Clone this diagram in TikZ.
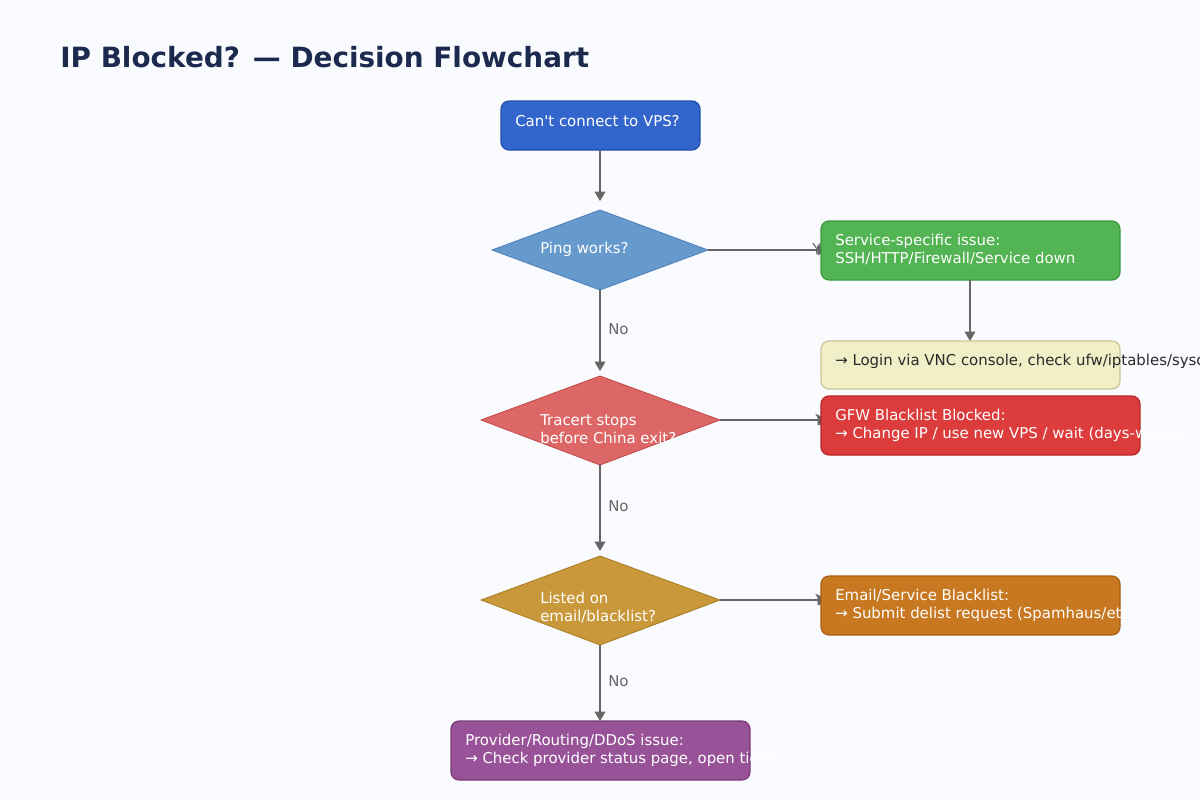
\documentclass[tikz,border=0pt]{standalone}
\usepackage{fontspec}
\setmainfont{DejaVu Sans}
\usetikzlibrary{arrows.meta}
\definecolor{bg}{HTML}{F9FBFE}
\definecolor{ttl}{HTML}{1B2A4E}
\definecolor{ln}{HTML}{666666}
\definecolor{cbf}{HTML}{3366CC}\definecolor{cbd}{HTML}{2250A8}
\definecolor{c1f}{HTML}{6699CC}\definecolor{c1d}{HTML}{4C7FB8}
\definecolor{cgf}{HTML}{52B452}\definecolor{cgd}{HTML}{3E9A3E}
\definecolor{cyf}{HTML}{F0EFC8}\definecolor{cyd}{HTML}{C9C592}\definecolor{cyt}{HTML}{2A2A2A}
\definecolor{c2f}{HTML}{DD6666}\definecolor{c2d}{HTML}{C04848}
\definecolor{crf}{HTML}{DD3C3C}\definecolor{crd}{HTML}{B82828}
\definecolor{c3f}{HTML}{C9983A}\definecolor{c3d}{HTML}{A87C24}
\definecolor{cof}{HTML}{C87820}\definecolor{cod}{HTML}{A86014}
\definecolor{cpf}{HTML}{985298}\definecolor{cpd}{HTML}{7C3A7C}
\begin{document}
\begin{tikzpicture}[x=0.75pt,y=-0.75pt,
  box/.style={draw,rounded corners=6pt,line width=0.9pt},
  txt/.style={anchor=west,font=\fontsize{11.2}{13.5}\selectfont,text=white,align=left,inner sep=0pt},
  arr/.style={draw=ln,line width=1.1pt,-{Triangle[length=7pt,width=8pt]}},
  lab/.style={font=\fontsize{11.2}{12}\selectfont,text=ln,anchor=west,inner sep=0pt}]
\fill[bg] (0,0) rectangle (1200,800);
\clip (0,0) rectangle (1200,800);
\node[anchor=west,inner sep=0pt,text=ttl,font=\bfseries\fontsize{20.9}{24}\selectfont] (title) at (60,57) {IP Blocked? — Decision Flowchart};
% labels under boxes
\node[lab] (y1) at (812,249) {Yes};
\node[lab] (y2) at (815,420) {Yes};
\node[lab] (y3) at (815,600) {Yes};
% start
\draw[box,fill=cbf,draw=cbd] (501,101) rectangle (700,150);
\node[txt] (t0) at (515,121) {Can\textquotesingle t connect to VPS?};
\coordinate (s0) at (600,150);
\coordinate (e1) at (600,201);
\draw[arr] (s0) -- (e1);
% diamond 1
\draw[fill=c1f,draw=c1d,line width=0.6pt] (600,210) -- (708,250) -- (600,290) -- (492,250) -- cycle;
\node[txt] (d1) at (540,249) {Ping works?};
\coordinate (d1r) at (708,250); \coordinate (g1) at (827,250);
\draw[arr] (d1r) -- (g1);
\draw[box,fill=cgf,draw=cgd] (821,221) rectangle (1120,280);
\node[txt] (tg) at (835,250) {Service-specific issue:\\SSH/HTTP/Firewall/Service down};
\coordinate (gb) at (970,280); \coordinate (yt) at (970,341);
\draw[arr] (gb) -- (yt);
\draw[box,fill=cyf,draw=cyd] (821,341) rectangle (1120,389);
\node[txt,text=cyt] (ty) at (835,361) {→ Login via VNC console, check ufw/iptables/sysctl};
% arrow No 1
\coordinate (d1b) at (600,290); \coordinate (d2t) at (600,371);
\draw[arr] (d1b) -- (d2t);
\node[lab] (n1) at (608,329) {No};
% diamond 2
\draw[fill=c2f,draw=c2d,line width=0.6pt] (600,376) -- (720,420) -- (600,465) -- (481,420) -- cycle;
\node[txt] (d2) at (540,429) {Tracert stops\\before China exit?};
\coordinate (d2r) at (720,420); \coordinate (r1) at (827,420);
\draw[arr] (d2r) -- (r1);
\draw[box,fill=crf,draw=crd] (821,396) rectangle (1140,455);
\node[txt] (tr) at (835,425) {GFW Blacklist Blocked:\\→ Change IP / use new VPS / wait (days-weeks)};
% No 2
\coordinate (d2b) at (600,465); \coordinate (d3t) at (600,551);
\draw[arr] (d2b) -- (d3t);
\node[lab] (n2) at (608,506) {No};
% diamond 3
\draw[fill=c3f,draw=c3d,line width=0.6pt] (600,556) -- (720,600) -- (600,645) -- (481,600) -- cycle;
\node[txt] (d3) at (540,608) {Listed on\\email/blacklist?};
\coordinate (d3r) at (720,600); \coordinate (o1) at (827,600);
\draw[arr] (d3r) -- (o1);
\draw[box,fill=cof,draw=cod] (821,576) rectangle (1120,635);
\node[txt] (to) at (835,605) {Email/Service Blacklist:\\→ Submit delist request (Spamhaus/etc.)};
% No 3
\coordinate (d3b) at (600,645); \coordinate (pt) at (600,721);
\draw[arr] (d3b) -- (pt);
\node[lab] (n3) at (608,681) {No};
\draw[box,fill=cpf,draw=cpd] (451,721) rectangle (750,780);
\node[txt] (tp) at (465,750) {Provider/Routing/DDoS issue:\\→ Check provider status page, open ticket};
\end{tikzpicture}
\end{document}
